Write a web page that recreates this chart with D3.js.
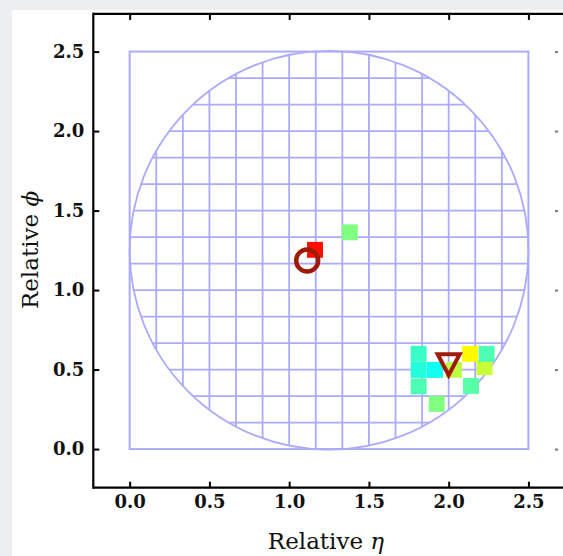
<!DOCTYPE html>
<html>
<head>
<meta charset="utf-8">
<script src="https://cdn.jsdelivr.net/npm/d3@7"></script>
<style>
  html, body { margin: 0; padding: 0; background: #eceef1; }
  svg { display: block; }
</style>
</head>
<body>
<svg id="chart" width="563" height="556"></svg>
<script>
// Energy deposits: cell centre (relative eta, relative phi) and colour-map level
const cellEta   = [1.162, 1.380, 1.812, 1.812, 1.812, 1.914, 2.033, 2.225, 2.134, 2.238, 2.140, 1.925];
const cellPhi   = [1.253, 1.363, 0.599, 0.498, 0.394, 0.498, 0.498, 0.515, 0.599, 0.599, 0.397, 0.284];
const cellLevel = [0.86,  0.50,  0.43,  0.41,  0.45,  0.39,  0.56,  0.57,  0.63,  0.45,  0.46,  0.50];

// Reconstructed objects
const circleEta = [1.113], circlePhi = [1.186];
const triEta = [2.0], triPhi = [0.530];

// Tick labels
const xTicks = [0.0, 0.5, 1.0, 1.5, 2.0, 2.5];
const yTicks = [0.0, 0.5, 1.0, 1.5, 2.0, 2.5];

// Cone geometry: square window, circular cone, grid pitch
const boxMin = 0, boxMax = 2.5;
const coneCentre = [1.25, 1.25], coneRadius = 1.25;
const gridPitch = 2.5 / 15;
const cellSize = 0.1;

const svg = d3.select("#chart");
const W = 563, H = 556;

// white figure panel
svg.append("rect").attr("x", 12).attr("y", 10).attr("width", W - 12).attr("height", H - 10).attr("fill", "#ffffff");

const x = d3.scaleLinear().domain([-0.228, 2.755]).range([93.3, 569.1]);
const y = d3.scaleLinear().domain([-0.243, 2.737]).range([487.7, 13.9]);

// jet colour map
const jet = t => {
  const c = v => Math.max(0, Math.min(1, v));
  const r = c(1.5 - Math.abs(4 * t - 3)), g = c(1.5 - Math.abs(4 * t - 2)), b = c(1.5 - Math.abs(4 * t - 1));
  return d3.rgb(r * 255, g * 255, b * 255).formatHex();
};

const gridColor = "#aaaaff";

// grid clipped to the cone
const defs = svg.append("defs");
defs.append("clipPath").attr("id", "cone").append("circle")
  .attr("cx", x(coneCentre[0])).attr("cy", y(coneCentre[1]))
  .attr("r", x(coneRadius) - x(0));

const lines = d3.range(1, 15).map(k => k * gridPitch);
const grid = svg.append("g").attr("clip-path", "url(#cone)")
  .attr("stroke", gridColor).attr("stroke-width", 1.8);
grid.selectAll("line.v").data(lines).join("line").attr("class", "v")
  .attr("x1", d => x(d)).attr("x2", d => x(d)).attr("y1", y(boxMin)).attr("y2", y(boxMax));
grid.selectAll("line.h").data(lines).join("line").attr("class", "h")
  .attr("y1", d => y(d)).attr("y2", d => y(d)).attr("x1", x(boxMin)).attr("x2", x(boxMax));

svg.append("circle")
  .attr("cx", x(coneCentre[0])).attr("cy", y(coneCentre[1]))
  .attr("r", x(coneRadius) - x(0))
  .attr("fill", "none").attr("stroke", gridColor).attr("stroke-width", 1.8);

svg.append("rect")
  .attr("x", x(boxMin)).attr("y", y(boxMax))
  .attr("width", x(boxMax) - x(boxMin)).attr("height", y(boxMin) - y(boxMax))
  .attr("fill", "none").attr("stroke", gridColor).attr("stroke-width", 2);

// deposits
const cells = cellEta.map((e, i) => ({ eta: e, phi: cellPhi[i], v: cellLevel[i] }));
svg.append("g").selectAll("rect").data(cells).join("rect")
  .attr("x", d => x(d.eta - cellSize / 2))
  .attr("y", d => y(d.phi + cellSize / 2))
  .attr("width", x(cellSize) - x(0))
  .attr("height", y(0) - y(cellSize))
  .attr("fill", d => jet(d.v));

// markers
const markColor = "#a01a0a";
svg.append("g").selectAll("circle").data(circleEta.map((e, i) => [e, circlePhi[i]])).join("circle")
  .attr("cx", d => x(d[0])).attr("cy", d => y(d[1])).attr("r", 11)
  .attr("fill", "none").attr("stroke", markColor).attr("stroke-width", 4.5);

svg.append("g").selectAll("path").data(triEta.map((e, i) => [e, triPhi[i]])).join("path")
  .attr("transform", d => `translate(${x(d[0])},${y(d[1])})`)
  .attr("d", "M-11,-10.5 L11,-10.5 L0,10.5 Z")
  .attr("fill", "none").attr("stroke", markColor).attr("stroke-width", 4).attr("stroke-linejoin", "miter");

// axes frame
const frame = svg.append("g").attr("stroke", "#000").attr("stroke-width", 2.2).attr("fill", "none");
frame.append("line").attr("x1", x.range()[0]).attr("x2", W + 5).attr("y1", y.range()[0]).attr("y2", y.range()[0]);
frame.append("line").attr("x1", x.range()[0]).attr("x2", W + 5).attr("y1", y.range()[1]).attr("y2", y.range()[1]);
frame.append("line").attr("x1", x.range()[0]).attr("x2", x.range()[0]).attr("y1", y.range()[0] + 1.1).attr("y2", y.range()[1] - 1.1);

const tickLen = 6;
const fmt = d3.format(".1f");
const xBottom = d3.axisBottom(x).tickValues(xTicks).tickFormat(fmt).tickSizeInner(-tickLen).tickSizeOuter(0).tickPadding(8);
const xTop = d3.axisTop(x).tickValues(xTicks).tickFormat("").tickSizeInner(-tickLen).tickSizeOuter(0);
const yLeft = d3.axisLeft(y).tickValues(yTicks).tickFormat(fmt).tickSizeInner(-tickLen).tickSizeOuter(0).tickPadding(9);
const yRight = d3.axisRight(y).tickValues(yTicks).tickFormat("").tickSizeInner(-3).tickSizeOuter(0);

const styleAxis = g => {
  g.select(".domain").remove();
  g.selectAll(".tick line").attr("stroke", "#000").attr("stroke-width", 2);
  g.selectAll(".tick text").attr("fill", "#111")
    .attr("font-family", "'DejaVu Serif', serif").attr("font-size", 18).attr("font-weight", "bold");
};
svg.append("g").attr("transform", `translate(0,${y.range()[0]})`).call(xBottom).call(styleAxis);
svg.append("g").attr("transform", `translate(0,${y.range()[1]})`).call(xTop).call(styleAxis);
svg.append("g").attr("transform", `translate(${x.range()[0]},0)`).call(yLeft).call(styleAxis);
svg.append("g").attr("transform", `translate(558,0)`).call(yRight).call(g => {
  g.select(".domain").remove();
  g.selectAll(".tick line").attr("stroke", "#777").attr("stroke-width", 2);
});

// axis titles
const labelFont = "'DejaVu Serif', serif";
const xl = svg.append("text").attr("x", 326).attr("y", 549).attr("text-anchor", "middle")
  .attr("font-family", labelFont).attr("font-size", 23).attr("fill", "#111");
xl.append("tspan").text("Relative ");
xl.append("tspan").attr("font-style", "italic").text("η");

const yl = svg.append("text").attr("transform", "translate(38,250) rotate(-90)").attr("text-anchor", "middle")
  .attr("font-family", labelFont).attr("font-size", 23).attr("fill", "#111");
yl.append("tspan").text("Relative ");
yl.append("tspan").attr("font-style", "italic").text("ϕ");
</script>
</body>
</html>
